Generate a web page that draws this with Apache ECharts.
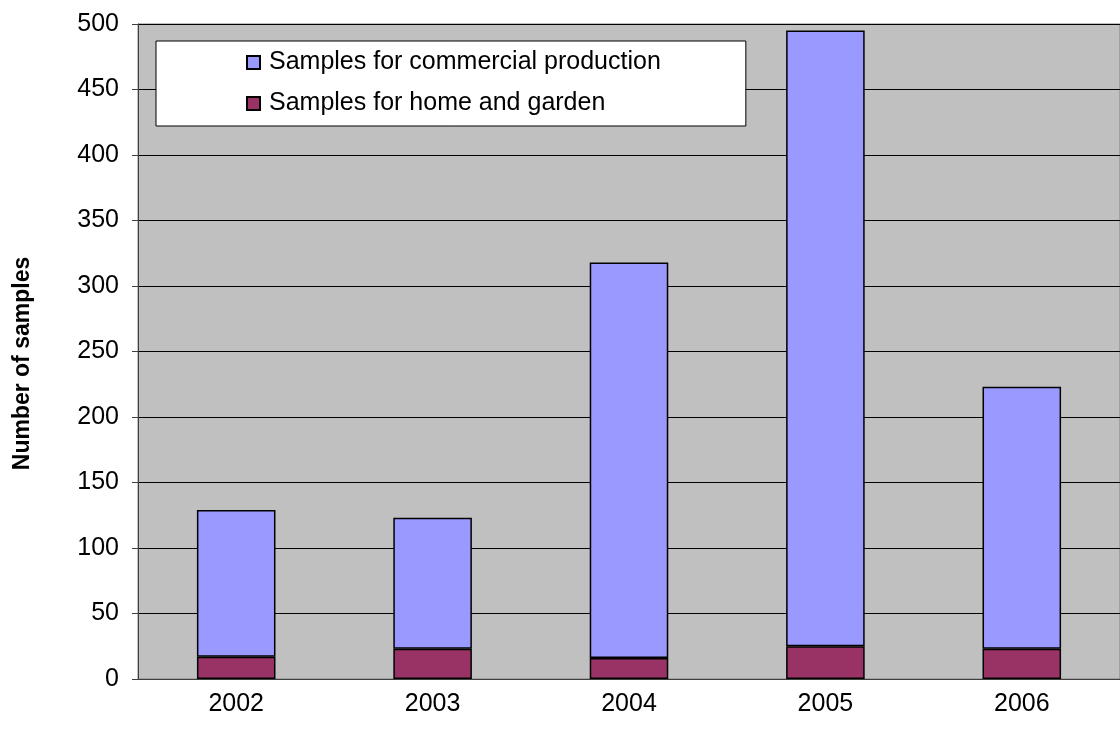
<!DOCTYPE html>
<html>
<head>
<meta charset="utf-8">
<script src="https://cdn.jsdelivr.net/npm/echarts@6/dist/echarts.min.js"></script>
<style>
  html, body { margin: 0; padding: 0; background: #fff; }
  #chart { width: 1120px; height: 731px; }
</style>
</head>
<body>
<div id="chart"></div>
<script>
// values
const years = ['2002', '2003', '2004', '2005', '2006']
const homeGarden = [17, 23, 16, 25, 23]
const commercial = [112, 100, 302, 470, 200]
const yTicks = { min: 0, max: 500, interval: 50 }

const font = 'Arial, "Liberation Sans", sans-serif'
const chart = echarts.init(document.getElementById('chart'), null, { renderer: 'canvas' })

chart.setOption({
  animation: false,
  textStyle: { fontFamily: font },
  grid: {
    left: 138, right: -7, top: 24, bottom: 52,
    show: true, backgroundColor: '#c0c0c0', borderColor: '#808080', borderWidth: 1
  },
  legend: {
    orient: 'vertical',
    left: 156, top: 41,
    data: ['Samples for commercial production', 'Samples for home and garden'],
    backgroundColor: '#fff',
    borderColor: '#000', borderWidth: 1,
    padding: [9, 85, 10, 90],
    itemGap: 16,
    itemWidth: 13, itemHeight: 13,
    icon: 'rect',
    textStyle: { fontSize: 25, color: '#000', fontFamily: font, padding: [0, 0, 0, 4] }
  },
  xAxis: {
    type: 'category',
    data: years,
    axisLine: { lineStyle: { color: '#404040', width: 1 } },
    axisTick: { length: 7, lineStyle: { color: '#404040' } },
    axisLabel: { fontSize: 25, color: '#000', margin: 13 }
  },
  yAxis: {
    type: 'value',
    min: yTicks.min, max: yTicks.max, interval: yTicks.interval,
    name: 'Number of samples',
    nameLocation: 'middle',
    nameGap: 104,
    nameTextStyle: { fontSize: 23, fontWeight: 'bold', color: '#000', padding: [0, 24, 0, 0] },
    axisLine: { show: true, lineStyle: { color: '#404040' } },
    axisTick: { show: true, length: 6, lineStyle: { color: '#404040' } },
    axisLabel: { fontSize: 25, color: '#000', margin: 19 },
    splitLine: { lineStyle: { color: '#000', width: 1 } }
  },
  series: [
    {
      name: 'Samples for home and garden',
      type: 'bar', stack: 'total', barWidth: '40%',
      data: homeGarden,
      itemStyle: { color: '#993366', borderColor: '#000', borderWidth: 1.5 }
    },
    {
      name: 'Samples for commercial production',
      type: 'bar', stack: 'total', barWidth: '40%',
      data: commercial,
      itemStyle: { color: '#9999ff', borderColor: '#000', borderWidth: 1.5 }
    }
  ]
})
</script>
</body>
</html>
